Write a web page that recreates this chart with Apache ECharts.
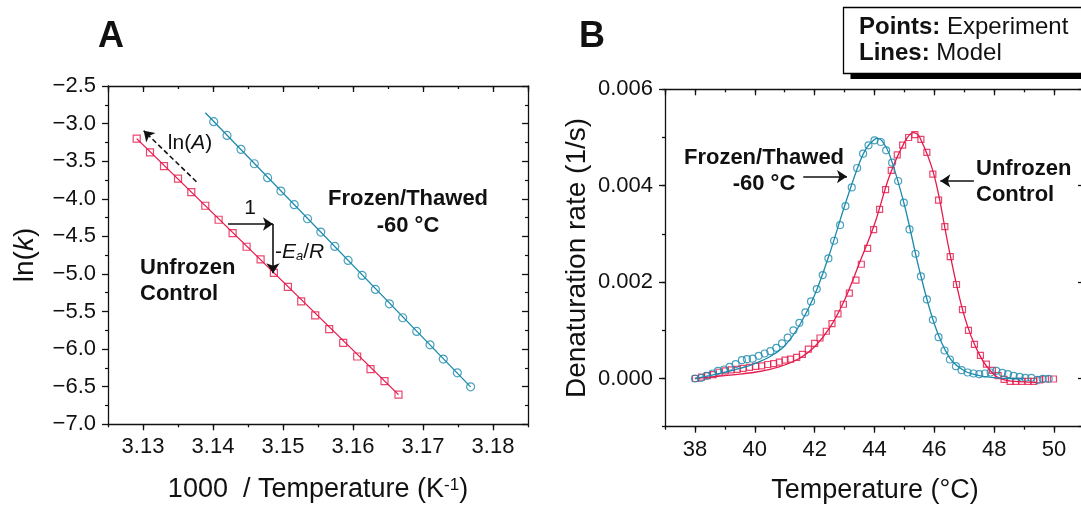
<!DOCTYPE html>
<html><head><meta charset="utf-8">
<script src="https://cdn.jsdelivr.net/npm/echarts@6/dist/echarts.min.js"></script>
<style>html,body{margin:0;padding:0;overflow:hidden;background:#fff}#c{width:1100px;height:508px}</style>
</head><body><div id="c"></div>
<script>
// ---------- Panel A data (Arrhenius plot) ----------
const invTUnfrozen = [3.1291,3.1310,3.1330,3.1350,3.1369,3.1389,3.1408,3.1428,3.1448,3.1468,3.1487,3.1507,3.1526,3.1546,3.1566,3.1586,3.1606,3.1625,3.1645,3.1665];
const lnkUnfrozen = [-3.200,-3.383,-3.565,-3.733,-3.911,-4.093,-4.279,-4.457,-4.638,-4.807,-4.985,-5.171,-5.366,-5.552,-5.734,-5.916,-6.098,-6.267,-6.426,-6.605];
const invTFrozen = [3.1401,3.1420,3.1440,3.1459,3.1478,3.1497,3.1516,3.1535,3.1554,3.1574,3.1593,3.1613,3.1632,3.1652,3.1671,3.1691,3.1710,3.1729,3.1749,3.1768];
const lnkFrozen = [-2.975,-3.157,-3.343,-3.534,-3.720,-3.898,-4.079,-4.266,-4.443,-4.634,-4.820,-5.020,-5.206,-5.397,-5.583,-5.765,-5.943,-6.133,-6.315,-6.502];
const modelInvTUnfrozen = [3.1291,3.1665];
const modelLnkUnfrozen = [-3.200,-6.605];
const modelInvTFrozen = [3.1389,3.1768];
const modelLnkFrozen = [-2.855,-6.502];

// ---------- Panel B data (denaturation rate vs temperature) ----------
const tempFrozen = [38.00,38.20,38.39,38.59,38.77,38.97,39.16,39.36,39.57,39.74,39.93,40.13,40.33,40.52,40.72,40.91,41.10,41.29,41.49,41.69,41.88,42.07,42.27,42.46,42.65,42.85,43.03,43.24,43.42,43.62,43.80,44.00,44.21,44.39,44.59,44.79,44.98,45.17,45.37,45.55,45.75,45.95,46.14,46.34,46.52,46.72,46.91,47.11,47.31,47.50,47.69,47.88,48.07,48.27,48.46,48.65,48.85,49.04,49.24,49.44,49.62,49.82];
const rateFrozen = [0.000000,0.000010,0.000055,0.000104,0.000159,0.000187,0.000242,0.000298,0.000381,0.000401,0.000412,0.000471,0.000519,0.000567,0.000637,0.000727,0.000850,0.001000,0.001156,0.001370,0.001599,0.001855,0.002145,0.002491,0.002858,0.003183,0.003578,0.003965,0.004367,0.004664,0.004837,0.004941,0.004907,0.004734,0.004478,0.004097,0.003647,0.003093,0.002588,0.002118,0.001640,0.001218,0.000858,0.000581,0.000394,0.000256,0.000173,0.000125,0.000104,0.000090,0.000104,0.000125,0.000159,0.000118,0.000090,0.000055,0.000035,0.000014,0.000014,-0.000028,-0.000007,-0.000007];
const tempUnfrozen = [38.02,38.22,38.42,38.61,38.81,39.01,39.21,39.41,39.61,39.82,40.03,40.23,40.43,40.63,40.82,41.01,41.19,41.40,41.59,41.79,42.00,42.18,42.39,42.58,42.78,42.96,43.16,43.38,43.56,43.77,43.97,44.17,44.37,44.56,44.76,44.94,45.14,45.35,45.55,45.75,45.95,46.14,46.35,46.53,46.74,46.94,47.14,47.34,47.54,47.74,47.94,48.13,48.33,48.53,48.72,48.92,49.13,49.32,49.52,49.71,49.98];
const rateUnfrozen = [0.00000,0.00003,0.00006,0.00008,0.00013,0.00016,0.00018,0.00019,0.00021,0.00023,0.00025,0.00026,0.00029,0.00031,0.00034,0.00038,0.00040,0.00044,0.00050,0.00061,0.00073,0.00084,0.00098,0.00114,0.00134,0.00154,0.00177,0.00204,0.00237,0.00270,0.00309,0.00351,0.00392,0.00432,0.00464,0.00484,0.00500,0.00506,0.00496,0.00469,0.00424,0.00370,0.00315,0.00253,0.00195,0.00143,0.00100,0.00071,0.00048,0.00030,0.00017,0.00006,-0.00002,-0.00006,-0.00006,-0.00006,-0.00006,-0.00006,-0.00003,-0.00001,-0.00001];
const modelTempFrozen = [38.0,38.5,39.0,39.5,40.0,40.5,41.0,41.5,42.0,42.5,43.0,43.5,43.75,44.0,44.1,44.25,44.5,45.0,45.5,46.0,46.5,47.0,47.5,48.0,48.5,49.0];
const modelRateFrozen = [0.00000,0.00006,0.00013,0.00021,0.00031,0.00045,0.00068,0.00111,0.00173,0.00259,0.00358,0.00448,0.00480,0.00496,0.00498,0.00493,0.00465,0.00360,0.00225,0.00113,0.00044,0.00016,0.00006,0.00002,0.00000,0.00000];
const modelTempUnfrozen = [38.0,38.5,39.0,39.5,40.0,40.5,41.0,41.5,42.0,42.5,43.0,43.5,44.0,44.5,45.0,45.3,45.5,46.0,46.5,47.0,47.5,48.0,48.5,49.0,49.4];
const modelRateUnfrozen = [0.00000,0.00003,0.00006,0.00009,0.00013,0.00019,0.00028,0.00042,0.00066,0.00105,0.00163,0.00240,0.00320,0.00420,0.00490,0.00510,0.00502,0.00420,0.00265,0.00130,0.00050,0.00008,-0.00005,-0.00007,-0.00008];

// ---------- styling ----------
const RED = '#e5194b', BLUE = '#1b8aad', INK = '#111';
const FONT = '"Liberation Sans", Arial, sans-serif';
const zip = (a, b) => a.map((v, i) => [v, b[i]]);
const minus = s => s.replace('-', '\u2212');

function ax(o) {
  const major = o.len === undefined ? 6 : o.len;
  return {
    type: 'value', gridIndex: o.grid, position: o.pos, min: o.min, max: o.max,
    interval: o.interval, splitNumber: o.split, scale: true,
    axisLine: { show: o.line !== false, onZero: false, lineStyle: { color: INK, width: 1.3 } },
    axisTick: { show: true, inside: !!o.inside, length: major, lineStyle: { color: INK, width: 1.3 } },
    minorTick: o.minor ? { show: true, splitNumber: o.minor, length: 3, lineStyle: { color: INK, width: 1.2 } } : { show: false },
    axisLabel: o.fmt ? { show: true, color: INK, fontFamily: FONT, fontSize: 22, margin: o.margin || 12, formatter: o.fmt, showMinLabel: o.showMin !== undefined ? o.showMin : null, showMaxLabel: o.showMax !== undefined ? o.showMax : null } : { show: false },
    splitLine: { show: false }, minorSplitLine: { show: false }
  };
}

const markerSquare = { color: 'rgba(0,0,0,0)', borderColor: RED, borderWidth: 1.2 };
const markerCircle = { color: 'rgba(0,0,0,0)', borderColor: BLUE, borderWidth: 1.2 };
const arrowLine = (pts, dashed) => ({
  silent: true, symbol: ['none', 'arrow'], symbolSize: 10, label: { show: false },
  lineStyle: { color: INK, width: 1.6, type: dashed ? [5, 3] : 'solid' },
  itemStyle: { color: INK },
  emphasis: { disabled: true },
  data: pts.map(p => [{ coord: p[0] }, { coord: p[1] }])
});

const option = {
  animation: false,
  backgroundColor: '#fff',
  grid: [
    { left: 108, top: 86, width: 420, height: 338.3 },
    { left: 665, top: 89.3, width: 419, height: 337.4 }
  ],
  xAxis: [
    ax({ grid: 0, pos: 'bottom', min: 3.125, max: 3.185, split: 6, fmt: v => v.toFixed(2), showMin: false, showMax: false }),
    ax({ grid: 0, pos: 'bottom', min: 3.125, max: 3.185, interval: 0.005, line: false, len: 3 }),
    ax({ grid: 0, pos: 'top', min: 3.125, max: 3.185, split: 6, inside: true }),
    ax({ grid: 0, pos: 'top', min: 3.125, max: 3.185, interval: 0.005, line: false, len: 3, inside: true }),
    ax({ grid: 1, pos: 'bottom', min: 37, max: 51, split: 7, fmt: v => String(Math.round(v)), showMin: false, showMax: false }),
    ax({ grid: 1, pos: 'bottom', min: 37, max: 51, interval: 1, line: false, len: 3 }),
    ax({ grid: 1, pos: 'top', min: 37, max: 51, split: 7, inside: true }),
    ax({ grid: 1, pos: 'top', min: 37, max: 51, interval: 1, line: false, len: 3, inside: true })
  ],
  yAxis: [
    ax({ grid: 0, pos: 'left', min: -7, max: -2.5, interval: 0.5, minor: 2, fmt: v => minus(v.toFixed(1)), margin: 12 }),
    ax({ grid: 0, pos: 'right', min: -7, max: -2.5, interval: 0.5, minor: 2, inside: true }),
    ax({ grid: 1, pos: 'left', min: -0.001, max: 0.006, split: 4, fmt: v => v.toFixed(3), showMin: false, margin: 12 }),
    ax({ grid: 1, pos: 'left', min: -0.001, max: 0.006, interval: 0.001, line: false, len: 3 }),
    ax({ grid: 1, pos: 'right', min: -0.001, max: 0.006, split: 4, inside: true }),
    ax({ grid: 1, pos: 'right', min: -0.001, max: 0.006, interval: 0.001, line: false, len: 3, inside: true })
  ],
  series: [
    { type: 'line', xAxisIndex: 0, yAxisIndex: 0, data: zip(modelInvTUnfrozen, modelLnkUnfrozen), symbol: 'none', silent: true,
      lineStyle: { color: RED, width: 1.3 },
      markLine: arrowLine([[[3.13763, -3.773], [3.1301, -3.095]]], true) },
    { type: 'line', xAxisIndex: 0, yAxisIndex: 0, data: zip(modelInvTFrozen, modelLnkFrozen), symbol: 'none', silent: true,
      lineStyle: { color: BLUE, width: 1.3 },
      markLine: arrowLine([[[3.14214, -4.336], [3.14857, -4.336]], [[3.14857, -4.336], [3.14857, -4.99]]], false) },
    { type: 'scatter', xAxisIndex: 0, yAxisIndex: 0, data: zip(invTUnfrozen, lnkUnfrozen), symbol: 'rect', symbolSize: 7, silent: true, itemStyle: markerSquare },
    { type: 'scatter', xAxisIndex: 0, yAxisIndex: 0, data: zip(invTFrozen, lnkFrozen), symbol: 'circle', symbolSize: 8, silent: true, itemStyle: markerCircle },

    { type: 'line', xAxisIndex: 4, yAxisIndex: 2, data: zip(modelTempUnfrozen, modelRateUnfrozen), symbol: 'none', smooth: 0.35, silent: true,
      lineStyle: { color: RED, width: 1.3 },
      markLine: arrowLine([[[47.32, 0.0041], [46.20, 0.0041]]], false) },
    { type: 'line', xAxisIndex: 4, yAxisIndex: 2, data: zip(modelTempFrozen, modelRateFrozen), symbol: 'none', smooth: 0.35, silent: true,
      lineStyle: { color: BLUE, width: 1.3 },
      markLine: arrowLine([[[41.62, 0.00419], [43.08, 0.00419]]], false) },
    { type: 'scatter', xAxisIndex: 4, yAxisIndex: 2, data: zip(tempUnfrozen, rateUnfrozen), symbol: 'rect', symbolSize: 6, silent: true, itemStyle: markerSquare },
    { type: 'scatter', xAxisIndex: 4, yAxisIndex: 2, data: zip(tempFrozen, rateFrozen), symbol: 'circle', symbolSize: 7, silent: true, itemStyle: markerCircle }
  ],
  graphic: []
};

function txt(x, y, text, o) {
  o = o || {};
  return { type: 'text', x: x, y: y, rotation: o.rot || 0, silent: true, z: 100,
    style: { text: text, fill: INK, fontFamily: FONT, fontSize: o.size || 21, fontWeight: o.bold ? 'bold' : 'normal',
      align: o.align || 'center', verticalAlign: 'middle', rich: o.rich } };
}
const richIt = (size) => ({ i: { fontStyle: 'italic', fontSize: size, fontFamily: FONT, fill: INK },
  sup: { fontSize: Math.round(size * 0.62), fontFamily: FONT, verticalAlign: 'top', fill: INK, lineHeight: size },
  sub: { fontSize: Math.round(size * 0.62), fontStyle: 'italic', fontFamily: FONT, verticalAlign: 'bottom', fill: INK, lineHeight: size },
  b: { fontWeight: 'bold', fontSize: size, fontFamily: FONT, fill: INK } });

option.graphic = [
  txt(111, 37, 'A', { size: 36, bold: true }),
  txt(592, 37, 'B', { size: 36, bold: true }),
  txt(25, 255, 'ln({i|k})', { size: 28, rot: Math.PI / 2, rich: richIt(28) }),
  txt(318, 490, '1000  / Temperature (K{sup|-1})', { size: 27, rich: richIt(27) }),
  txt(577, 258, 'Denaturation rate (1/s)', { size: 28, rot: Math.PI / 2 }),
  txt(875, 491, 'Temperature (°C)', { size: 27 }),
  // panel A annotations
  txt(190, 143.5, 'ln({i|A})', { size: 21, rich: richIt(21) }),
  txt(250, 208.5, '1', { size: 21 }),
  txt(275, 252, '-{i|E}{sub|a}/{i|R}', { size: 21, align: 'left', rich: richIt(21) }),
  txt(408, 199, 'Frozen/Thawed', { size: 22, bold: true }),
  txt(408, 226, '-60 °C', { size: 22, bold: true }),
  txt(140, 267.5, 'Unfrozen', { size: 22, bold: true, align: 'left' }),
  txt(140, 293.5, 'Control', { size: 22, bold: true, align: 'left' }),
  // panel B annotations
  txt(764, 158, 'Frozen/Thawed', { size: 22, bold: true }),
  txt(764, 184, '-60 °C', { size: 22, bold: true }),
  txt(976, 169, 'Unfrozen', { size: 22, bold: true, align: 'left' }),
  txt(976, 195, 'Control', { size: 22, bold: true, align: 'left' }),
  // legend box
  { type: 'rect', silent: true, z: 90, shape: { x: 850.5, y: 13, width: 300, height: 66 }, style: { fill: '#000' } },
  { type: 'rect', silent: true, z: 91, shape: { x: 843.5, y: 7.5, width: 300, height: 66 }, style: { fill: '#fff', stroke: '#000', lineWidth: 1.3 } },
  txt(859, 27, '{b|Points:} Experiment', { size: 24, align: 'left', rich: richIt(24) }),
  txt(859, 53.5, '{b|Lines:} Model', { size: 24, align: 'left', rich: richIt(24) })
];

const chart = echarts.init(document.getElementById('c'), null, { renderer: 'canvas' });
chart.setOption(option);
</script>
</body></html>
